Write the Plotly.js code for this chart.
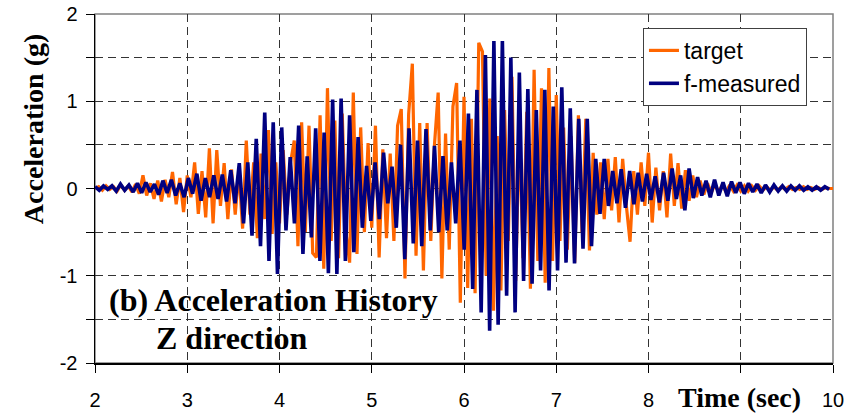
<!DOCTYPE html>
<html>
<head>
<meta charset="utf-8">
<script src="https://cdn.plot.ly/plotly-3.0.1.min.js"></script>
<style>
html,body{margin:0;padding:0;background:#fff;}
#chart{width:859px;height:416px;}
</style>
</head>
<body>
<div id="chart"></div>
<script>
// Target record: sampled every 0.04 s from t = 2 s
const targetStart = 2.0;
const targetStep = 0.04;
const targetAcc = [
  0, 0.02, -0.02, 0.03, -0.01, 0.02, -0.03, 0.04, -0.02, 0.03,
  -0.04, 0.05, -0.06, 0.15, -0.08, 0.06, -0.12, 0.09, -0.15, 0.1,
  -0.1, 0.19, -0.18, 0.12, -0.27, 0.15, -0.1, 0.3, -0.29, 0.2,
  -0.33, 0.46, -0.4, 0.44, -0.2, 0.29, -0.35, 0.22, -0.3, 0.2,
  -0.46, 0.55, -0.3, 0.3, -0.57, 0.4, -0.35, 0.67, -0.52, 0.3,
  -0.4, 0.44, -0.3, 0.3, 0.55, -0.66, 0.76, -0.5, 0.72, -0.74,
  -0.79, 0.84, -0.92, 1.15, -0.6, 0.78, -0.8, 0.86, -0.5, -0.85,
  1.1, -0.75, 0.7, -0.5, 0.52, -0.45, 0.72, -0.79, 0.45, -0.57,
  0.4, -0.6, 0.72, 0.91, -1.03, 0.85, 1.43, -0.77, 0.75, -0.94,
  0.75, -0.6, 0.5, 1.1, -1.03, 0.63, -0.7, 0.94, 1.21, -1.31,
  1.05, -1.14, 0.8, -1.2, 1.67, 1.57, -1.0, 1.03, -1.4, 0.6,
  -1.17, 0.9, -0.6, 1.28, -1.06, 0.7, -0.8, 0.88, -1.15, 1.36,
  -0.83, 1.15, -1.08, 1.38, -0.83, 1.07, -0.6, 0.7, -0.7, 0.6,
  -0.85, 0.84, -0.5, 0.8, -0.71, 0.41, -0.3, 0.3, -0.35, 0.34,
  -0.25, 0.36, -0.39, 0.34, -0.2, -0.61, 0.2, -0.3, 0.3, -0.2,
  0.41, -0.39, 0.24, -0.25, 0.2, -0.33, 0.4, -0.2, 0.29, -0.23,
  0.21, -0.14, 0.15, -0.1, 0.09, -0.07, 0.06, -0.05, 0.05, -0.04,
  0.04, -0.04, 0.04, -0.03, 0.04, -0.03, 0.03, -0.03, 0.03, -0.02,
  0.03, -0.02, 0.02, -0.02, 0.02, -0.02, 0.02, -0.01, 0.02, -0.01,
  0.01, -0.01, 0.02, -0.01, 0.01, -0.01, 0.01, -0.01, 0.01, 0,
  0
];

// Measured record: sampled every 0.046 s from t = 2 s
const measStart = 2.0;
const measStep = 0.046;
const measAcc = [
  0.02, -0.02, 0.03, -0.01, 0.03, -0.03, 0.05, -0.02, 0.04, -0.04,
  0.06, -0.05, 0.07, -0.04, 0.05, -0.07, 0.09, -0.05, 0.1, -0.08,
  0.06, -0.1, 0.12, -0.06, 0.17, -0.14, 0.12, -0.1, 0.15, -0.12,
  0.16, -0.15, 0.21, -0.17, 0.29, -0.4, 0.30, -0.54, 0.57, -0.66,
  0.87, -0.83, 0.76, -0.98, 0.70, -0.48, 0.36, -0.4, 0.72, -0.75,
  0.37, -0.56, 0.69, -0.83, 0.64, -0.97, 1.02, -0.98, 1.03, -0.83,
  0.84, -0.73, 0.59, -0.45, 0.26, -0.37, 0.3, -0.35, 0.41, -0.17,
  0.25, -0.45, 0.5, -0.81, 0.69, -0.63, 0.55, -0.66, 0.68, -0.48,
  0.49, -0.5, 0.37, -0.48, 0.3, -0.4, 0.55, -0.7, 0.86, -1.15,
  1.13, -1.42, 1.53, -1.63, 1.69, -1.56, 1.69, -1.23, 1.50, -1.42,
  1.33, -1.06, 1.14, -1.09, 0.9, -0.94, 1.13, -1.17, 0.94, -0.94,
  1.16, -0.85, 0.92, -0.86, 0.8, -0.69, 0.8, -0.66, 0.34, -0.29,
  0.34, -0.2, 0.2, -0.17, 0.22, -0.22, 0.2, -0.18, 0.18, -0.15,
  0.17, -0.13, 0.14, -0.16, 0.18, -0.14, 0.23, -0.12, 0.15, -0.25,
  0.23, -0.11, 0.13, -0.08, 0.09, -0.1, 0.1, -0.08, 0.07, -0.09,
  0.08, -0.05, 0.07, -0.06, 0.06, -0.04, 0.05, -0.05, 0.04, -0.04,
  0.04, -0.03, 0.03, -0.03, 0.03, -0.02, 0.03, -0.02, 0.02, -0.02,
  0.02, -0.02, 0.02, -0.01
];

const seriesNames = ['target', 'f-measured'];
const xTickVals = [2, 3, 4, 5, 6, 7, 8, 9, 10];
const xTickText = ['2', '3', '4', '5', '6', '7', '8', '', '10'];
const yTickVals = [-2, -1.5, -1, -0.5, 0, 0.5, 1, 1.5, 2];
const yTickText = ['-2', '', '-1', '', '0', '', '1', '', '2'];

const tTarget = targetAcc.map((_, i) => +(targetStart + i * targetStep).toFixed(4));
const tMeas = measAcc.map((_, i) => +(measStart + i * measStep).toFixed(4));

const data = [
  {x: tTarget, y: targetAcc, type: 'scatter', mode: 'lines', name: seriesNames[0],
   line: {color: '#FF6600', width: 3.2}},
  {x: tMeas, y: measAcc, type: 'scatter', mode: 'lines', name: seriesNames[1],
   line: {color: '#000080', width: 3.6}}
];

const gridStyle = {showgrid: true, gridcolor: '#333333', gridwidth: 1, griddash: '8px,5px'};
const tickFont = {family: 'Liberation Sans, Arial, sans-serif', size: 20, color: '#000'};
const serifBold = (s) => ({family: 'Liberation Serif, Times New Roman, serif', size: s, color: '#000', weight: 'bold'});

const layout = {
  width: 859, height: 416,
  margin: {l: 95, r: 26, t: 14, b: 53},
  paper_bgcolor: '#ffffff', plot_bgcolor: '#ffffff',
  showlegend: true,
  font: tickFont,
  xaxis: Object.assign({
    range: [2, 10], tickmode: 'array', tickvals: xTickVals, ticktext: xTickText,
    ticks: 'outside', ticklen: 8, tickcolor: '#000', tickwidth: 1, ticklabelstandoff: 10,
    showline: true, linecolor: '#000', linewidth: 1.5, zeroline: false,
    tickfont: tickFont
  }, gridStyle),
  yaxis: Object.assign({
    range: [-2, 2], tickmode: 'array', tickvals: yTickVals, ticktext: yTickText,
    ticks: 'outside', ticklen: 8, tickcolor: '#000', tickwidth: 1, ticklabelstandoff: 4,
    showline: true, linecolor: '#000', linewidth: 1.5, zeroline: false,
    tickfont: tickFont
  }, gridStyle),
  legend: {
    x: 0.7425, y: 0.96, xanchor: 'left', yanchor: 'top',
    bgcolor: '#ffffff', bordercolor: '#404040', borderwidth: 1,
    font: {family: 'Liberation Sans, Arial, sans-serif', size: 23, color: '#000'},
    tracegroupgap: 0
  },
  shapes: [
    {type: 'rect', xref: 'paper', yref: 'paper', x0: 0, x1: 1, y0: 0, y1: 1,
     line: {color: '#808080', width: 1.5}, layer: 'below'}
  ],
  annotations: [
    {text: 'Acceleration (g)', xref: 'paper', yref: 'paper', x: -0.084, y: 0.67,
     xanchor: 'center', yanchor: 'middle', textangle: -90, showarrow: false,
     font: serifBold(28)},
    {text: 'Time (sec)', xref: 'paper', yref: 'paper', x: (739 - 95) / 738, y: -0.1,
     xanchor: 'center', yanchor: 'middle', showarrow: false,
     font: serifBold(28)},
    {text: '(b) Acceleration History', xref: 'paper', yref: 'paper', x: (273 - 95) / 738, y: (363 - 300) / 349,
     xanchor: 'center', yanchor: 'middle', showarrow: false,
     font: serifBold(32)},
    {text: 'Z direction', xref: 'paper', yref: 'paper', x: (232 - 95) / 738, y: (363 - 338) / 349,
     xanchor: 'center', yanchor: 'middle', showarrow: false,
     font: serifBold(32)}
  ]
};

Plotly.newPlot('chart', data, layout, {displayModeBar: false, staticPlot: true});
</script>
</body>
</html>
